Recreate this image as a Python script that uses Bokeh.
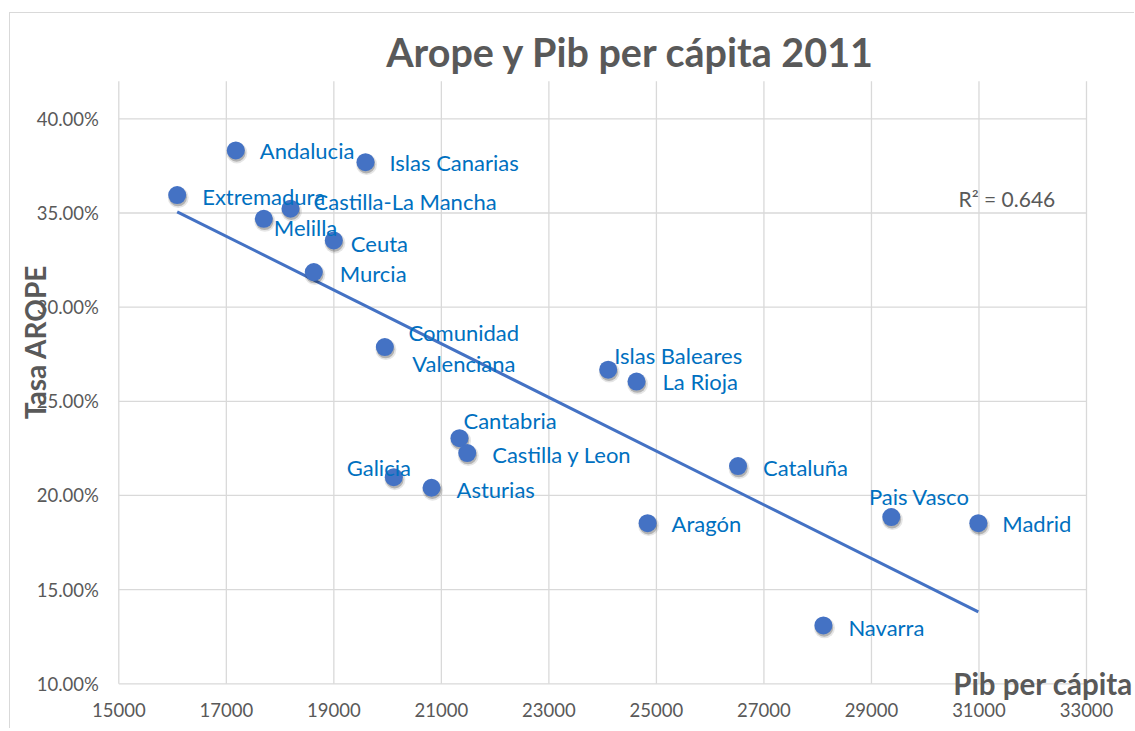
import numpy as np
from bokeh.plotting import figure
from bokeh.models import (ColumnDataSource, NumeralTickFormatter, FixedTicker, Label, Range1d,
                          LinearAxis)
from bokeh.transform import dodge
from bokeh.core.properties import value
from bokeh.embed import file_html
from bokeh.resources import INLINE

# ---- data ----
regions = ["Andalucia", "Islas Canarias", "Extremadura", "Castilla-La Mancha", "Melilla",
           "Ceuta", "Murcia", "Comunidad\nValenciana", "Islas Baleares", "La Rioja",
           "Cantabria", "Castilla y Leon", "Galicia", "Asturias", "Cataluña",
           "Aragón", "Pais Vasco", "Madrid", "Navarra"]
pib = [17176, 19589, 16086, 18194, 17697,
       18999, 18627, 19948, 24103, 24630,
       21337, 21481, 20115, 20817, 26518,
       24836, 29369, 30988, 28106]
arope = [0.3832, 0.3770, 0.3595, 0.3523, 0.3469,
         0.3354, 0.3186, 0.2788, 0.2668, 0.2605,
         0.2304, 0.2225, 0.2097, 0.2041, 0.2156,
         0.1853, 0.1885, 0.1853, 0.1310]
x_ticks = [15000, 17000, 19000, 21000, 23000, 25000, 27000, 29000, 31000, 33000]
y_ticks = [0.10, 0.15, 0.20, 0.25, 0.30, 0.35, 0.40]
y_top = 0.42
r2_text = "R² = 0.646"
title_text = "Arope y Pib per cápita 2011"
x_title = "Pib per cápita"
y_title = "Tasa AROPE"

# label placement (screen pixels): dx, dy, align
label_dx = [24, 24, 25, 23, 10, 17, 26, 79, 6, 26, 4, 25, -15, 25, 25, 24, 28, 24, 25]
label_dy = [0, 0, 1, -7, 9, 3, 1, 1, -14, 0, -18, 1, -10, 2, 1, 0, -21, 0, 2]
label_al = ["left", "left", "left", "left", "left", "left", "left", "center", "left", "left",
            "left", "left", "center", "left", "left", "left", "center", "left", "left"]

BLUE = "#4472C4"
LBL = "#0070C0"
GREY = "#595959"
GRID = "#D9D9D9"
FONT = "Lato"

src = ColumnDataSource(dict(x=pib, y=arope, name=regions, dx=label_dx, dy=label_dy, al=label_al))

# the frame fills the whole canvas; axes are pinned inside it
p = figure(output_backend="svg", toolbar_location=None, width=1125, height=716,
           x_axis_location=None, y_axis_location=None,
           x_range=Range1d(12985.5, 33911.5), y_range=Range1d(0.07573, 0.45592))
p.center = []  # drop default grids
p.min_border_left = p.min_border_right = p.min_border_top = p.min_border_bottom = 0
p.styles = {"margin-left": "9px", "margin-top": "12px",
            "border-left": "1px solid #D9D9D9", "border-top": "1px solid #D9D9D9"}
p.outline_line_color = None
p.background_fill_color = "white"
p.border_fill_color = "white"

xmin, xmax = x_ticks[0], x_ticks[-1]
ymin, ymax = y_ticks[0], y_top

# grid lines, bounded to the plot area
p.segment(x0=x_ticks, y0=[ymin] * len(x_ticks), x1=x_ticks, y1=[ymax] * len(x_ticks),
          line_color=GRID, line_width=1.3)
p.segment(x0=[xmin] * len(y_ticks), y0=y_ticks, x1=[xmax] * len(y_ticks), y1=y_ticks,
          line_color=GRID, line_width=1.3)

xaxis = LinearAxis(fixed_location=ymin, ticker=FixedTicker(ticks=x_ticks),
                   formatter=NumeralTickFormatter(format="0"))
yaxis = LinearAxis(fixed_location=xmin, ticker=FixedTicker(ticks=y_ticks),
                   formatter=NumeralTickFormatter(format="0.00%"))
for ax in (xaxis, yaxis):
    ax.axis_line_color = None
    ax.major_tick_line_color = None
    ax.minor_tick_line_color = None
    ax.major_tick_out = 0
    ax.major_tick_in = 0
    ax.minor_tick_out = 0
    ax.major_label_text_font = FONT
    ax.major_label_text_font_size = "18.5px"
    ax.major_label_text_color = GREY
xaxis.major_label_standoff = 19
yaxis.major_label_standoff = 20
p.add_layout(xaxis, "below")
p.add_layout(yaxis, "left")

# trendline (least squares)
xa = np.array(pib, dtype=float)
ya = np.array(arope, dtype=float)
m, b = np.polyfit(xa, ya, 1)
xt = np.array([xa.min(), xa.max()])
p.line(xt, m * xt + b, line_color=BLUE, line_width=3)

# marker shadows + markers
p.scatter(x=dodge("x", 20, range=p.x_range), y=dodge("y", -0.0013, range=p.y_range), source=src,
          size=21, fill_color="black", fill_alpha=0.10, line_color=None)
p.scatter(x=dodge("x", 15, range=p.x_range), y=dodge("y", -0.0012, range=p.y_range), source=src,
          size=18, fill_color="black", fill_alpha=0.22, line_color=None)
p.scatter(x="x", y="y", source=src, size=18, fill_color=BLUE, line_color=None)

p.text(x="x", y="y", text="name", source=src, x_offset="dx", y_offset="dy",
       text_align="al", text_baseline="middle", text_font=value(FONT),
       text_font_size="22px", text_color=LBL, text_line_height=1.12)

# R squared
p.add_layout(Label(x=30619, y=0.3577, text=r2_text, text_font=FONT,
                   text_font_size="21px", text_color=GREY, text_baseline="middle"))

# titles
p.add_layout(Label(x=24527, y=0.43548, text=title_text, text_font=FONT,
                   text_font_size="39.5px", text_font_style="bold", text_color=GREY,
                   text_align="center", text_baseline="middle"))
p.add_layout(Label(x=13450, y=0.2815, text=y_title, text_font=FONT, angle=np.pi / 2,
                   text_font_size="28px", text_font_style="bold", text_color=GREY,
                   text_align="center", text_baseline="middle"))
p.add_layout(Label(x=32191, y=0.0999, text=x_title, text_font=FONT,
                   text_font_size="29.5px", text_font_style="bold", text_color=GREY,
                   text_align="center", text_baseline="middle"))

open("out.html", "w").write(file_html(p, INLINE))
